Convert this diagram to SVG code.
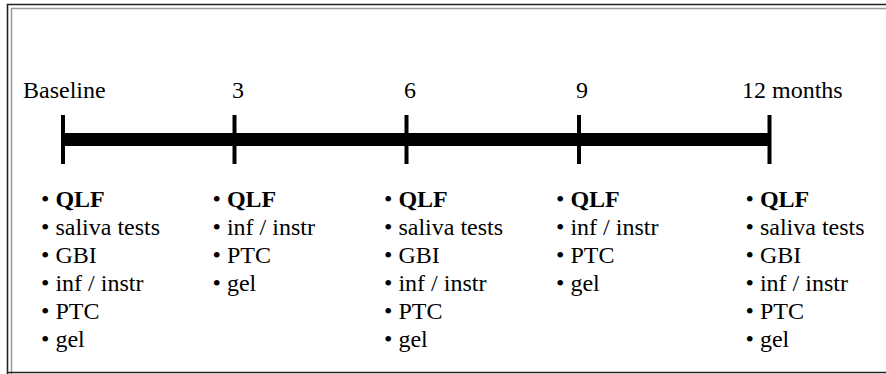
<svg xmlns="http://www.w3.org/2000/svg" width="886" height="374" viewBox="0 0 886 374">
<style>
.t{font-family:"Liberation Serif","Times New Roman",Times,serif;font-size:24px;fill:#000}
.b{font-weight:bold}
.tick{stroke:#000;stroke-width:4}
</style>
<rect width="886" height="374" fill="#fff"/>
<g id="frame" fill="none">
<path d="M7.5,374 V4.5 H886" stroke="#222" stroke-width="1.6"/>
<path d="M11.5,374 V8.5 H886" stroke="#999" stroke-width="1.5"/>
<path d="M7.5,372.5 H886" stroke="#222" stroke-width="1.6"/>
</g>
<g id="connectors">
<rect x="62" y="133" width="707" height="13" fill="#000"/>
<line class="tick" x1="63" y1="115" x2="63" y2="164"/>
<line class="tick" x1="234.5" y1="115" x2="234.5" y2="164"/>
<line class="tick" x1="406.5" y1="115" x2="406.5" y2="164"/>
<line class="tick" x1="579" y1="115" x2="579" y2="164"/>
<line class="tick" x1="769.5" y1="115" x2="769.5" y2="164"/>
</g>
<g id="labels">
<text class="t" x="23" y="98">Baseline</text>
<text class="t" x="232" y="98">3</text>
<text class="t" x="404" y="98">6</text>
<text class="t" x="576" y="98">9</text>
<text class="t" x="742" y="98">12 months</text>
</g>
<g id="col-baseline">
<text class="t" x="41" y="207">&#8226; <tspan class="b">QLF</tspan></text>
<text class="t" x="41" y="235">&#8226; saliva tests</text>
<text class="t" x="41" y="263">&#8226; GBI</text>
<text class="t" x="41" y="291">&#8226; inf / instr</text>
<text class="t" x="41" y="319">&#8226; PTC</text>
<text class="t" x="41" y="347">&#8226; gel</text>
</g>
<g id="col-3">
<text class="t" x="212.5" y="207">&#8226; <tspan class="b">QLF</tspan></text>
<text class="t" x="212.5" y="235">&#8226; inf / instr</text>
<text class="t" x="212.5" y="263">&#8226; PTC</text>
<text class="t" x="212.5" y="291">&#8226; gel</text>
</g>
<g id="col-6">
<text class="t" x="384" y="207">&#8226; <tspan class="b">QLF</tspan></text>
<text class="t" x="384" y="235">&#8226; saliva tests</text>
<text class="t" x="384" y="263">&#8226; GBI</text>
<text class="t" x="384" y="291">&#8226; inf / instr</text>
<text class="t" x="384" y="319">&#8226; PTC</text>
<text class="t" x="384" y="347">&#8226; gel</text>
</g>
<g id="col-9">
<text class="t" x="556" y="207">&#8226; <tspan class="b">QLF</tspan></text>
<text class="t" x="556" y="235">&#8226; inf / instr</text>
<text class="t" x="556" y="263">&#8226; PTC</text>
<text class="t" x="556" y="291">&#8226; gel</text>
</g>
<g id="col-12">
<text class="t" x="745.5" y="207">&#8226; <tspan class="b">QLF</tspan></text>
<text class="t" x="745.5" y="235">&#8226; saliva tests</text>
<text class="t" x="745.5" y="263">&#8226; GBI</text>
<text class="t" x="745.5" y="291">&#8226; inf / instr</text>
<text class="t" x="745.5" y="319">&#8226; PTC</text>
<text class="t" x="745.5" y="347">&#8226; gel</text>
</g>
</svg>
